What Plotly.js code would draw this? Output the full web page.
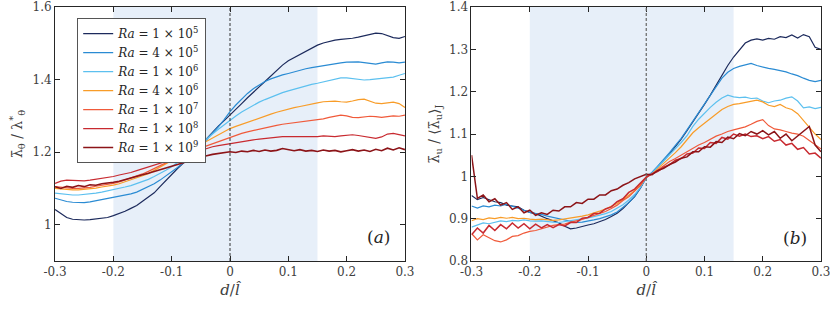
<!DOCTYPE html>
<html>
<head>
<meta charset="utf-8">
<script src="https://cdn.plot.ly/plotly-3.0.1.min.js"></script>
<style>html,body{margin:0;padding:0;background:#fff;}#chart{width:830px;height:311px;}</style>
</head>
<body>
<div id="chart"></div>
<script>
// sample positions d/l_hat from -0.3 to 0.3, step 0.01
const dGrid = [];
for (let i = 0; i <= 60; i++) dGrid.push(Math.round((-0.3 + i * 0.01) * 100) / 100);

const raLabels = ['<i>Ra</i> = 1 × 10<sup>5</sup>', '<i>Ra</i> = 4 × 10<sup>5</sup>', '<i>Ra</i> = 1 × 10<sup>6</sup>',
  '<i>Ra</i> = 4 × 10<sup>6</sup>', '<i>Ra</i> = 1 × 10<sup>7</sup>', '<i>Ra</i> = 1 × 10<sup>8</sup>', '<i>Ra</i> = 1 × 10<sup>9</sup>'];
const raColors = ['#1c2a5c', '#2a8bd3', '#5cc0ef', '#f89c28', '#f05a3a', '#c82a30', '#8c1418'];

// panel (a): lambda_theta / lambda*_theta
const a1e5 = [1.042,1.030,1.020,1.015,1.013,1.013,1.014,1.016,1.018,1.020,1.025,1.030,1.037,1.045,1.053,1.065,1.077,1.088,1.105,1.122,1.138,1.155,1.170,1.186,1.201,1.218,1.237,1.256,1.272,1.287,1.302,1.318,1.334,1.350,1.366,1.380,1.395,1.410,1.425,1.440,1.452,1.461,1.469,1.478,1.487,1.495,1.501,1.506,1.509,1.511,1.512,1.514,1.517,1.521,1.525,1.528,1.527,1.522,1.516,1.514,1.519];
const a4e5 = [1.073,1.068,1.064,1.062,1.061,1.061,1.063,1.066,1.069,1.071,1.074,1.077,1.081,1.085,1.090,1.097,1.104,1.113,1.123,1.134,1.145,1.158,1.171,1.186,1.201,1.218,1.235,1.252,1.270,1.290,1.312,1.330,1.347,1.362,1.375,1.386,1.395,1.402,1.408,1.413,1.417,1.422,1.426,1.430,1.433,1.436,1.438,1.441,1.444,1.446,1.448,1.449,1.449,1.447,1.444,1.443,1.446,1.449,1.448,1.446,1.448];
const a1e6 = [1.087,1.085,1.083,1.082,1.082,1.083,1.085,1.087,1.090,1.093,1.096,1.100,1.104,1.108,1.113,1.119,1.125,1.133,1.141,1.150,1.160,1.171,1.183,1.196,1.210,1.224,1.237,1.250,1.263,1.276,1.289,1.300,1.311,1.320,1.330,1.338,1.345,1.352,1.358,1.364,1.369,1.374,1.379,1.383,1.387,1.390,1.394,1.398,1.402,1.405,1.405,1.403,1.400,1.399,1.400,1.402,1.403,1.404,1.407,1.412,1.417];
const a4e6 = [1.100,1.098,1.097,1.096,1.096,1.097,1.099,1.101,1.104,1.106,1.109,1.113,1.118,1.123,1.129,1.135,1.141,1.150,1.160,1.170,1.179,1.188,1.197,1.205,1.213,1.222,1.230,1.239,1.247,1.256,1.265,1.271,1.277,1.283,1.289,1.295,1.300,1.305,1.310,1.315,1.320,1.323,1.326,1.330,1.333,1.336,1.339,1.341,1.341,1.339,1.338,1.341,1.345,1.346,1.341,1.335,1.334,1.336,1.338,1.334,1.323];
const a1e7 = [1.105,1.103,1.101,1.100,1.100,1.101,1.103,1.106,1.108,1.111,1.114,1.118,1.123,1.128,1.134,1.140,1.147,1.155,1.163,1.171,1.179,1.187,1.194,1.200,1.206,1.212,1.218,1.224,1.230,1.236,1.242,1.247,1.252,1.256,1.260,1.264,1.268,1.271,1.274,1.277,1.279,1.281,1.283,1.285,1.287,1.289,1.292,1.296,1.300,1.302,1.300,1.296,1.295,1.297,1.299,1.298,1.296,1.298,1.300,1.299,1.302];
const a1e8 = [1.114,1.120,1.123,1.122,1.120,1.121,1.123,1.125,1.127,1.130,1.133,1.137,1.140,1.144,1.149,1.154,1.159,1.165,1.170,1.175,1.180,1.186,1.191,1.196,1.201,1.206,1.211,1.215,1.218,1.221,1.223,1.226,1.229,1.232,1.234,1.236,1.238,1.240,1.242,1.243,1.243,1.242,1.243,1.243,1.242,1.243,1.245,1.244,1.243,1.245,1.247,1.248,1.246,1.243,1.240,1.238,1.242,1.250,1.252,1.248,1.245];
const a1e9 = [1.105,1.100,1.106,1.103,1.108,1.105,1.110,1.109,1.113,1.114,1.117,1.120,1.125,1.128,1.133,1.138,1.142,1.147,1.151,1.156,1.160,1.166,1.171,1.176,1.181,1.185,1.190,1.194,1.196,1.199,1.201,1.199,1.203,1.201,1.205,1.202,1.206,1.203,1.205,1.210,1.207,1.204,1.207,1.203,1.205,1.202,1.206,1.203,1.205,1.201,1.204,1.207,1.203,1.206,1.202,1.208,1.204,1.211,1.206,1.212,1.207];

// panel (b): lambda_u / <lambda_u>_J
const b1e5 = [0.955,0.945,0.950,0.945,0.940,0.938,0.932,0.930,0.928,0.920,0.915,0.912,0.905,0.900,0.895,0.890,0.882,0.876,0.878,0.882,0.885,0.888,0.893,0.898,0.905,0.913,0.924,0.937,0.952,0.972,0.997,1.008,1.022,1.038,1.053,1.070,1.088,1.108,1.128,1.148,1.170,1.192,1.215,1.240,1.262,1.282,1.298,1.315,1.322,1.325,1.322,1.326,1.324,1.330,1.328,1.334,1.327,1.335,1.330,1.305,1.300];
const b4e5 = [0.930,0.925,0.930,0.928,0.932,0.930,0.934,0.930,0.925,0.920,0.915,0.912,0.910,0.906,0.903,0.900,0.897,0.894,0.891,0.892,0.894,0.897,0.900,0.904,0.909,0.916,0.926,0.938,0.953,0.973,0.998,1.010,1.025,1.040,1.056,1.073,1.090,1.110,1.130,1.150,1.170,1.190,1.210,1.232,1.246,1.255,1.260,1.264,1.267,1.262,1.258,1.255,1.253,1.250,1.247,1.242,1.238,1.232,1.227,1.224,1.227];
const b1e6 = [0.880,0.885,0.890,0.888,0.892,0.895,0.893,0.896,0.895,0.897,0.895,0.894,0.895,0.893,0.892,0.891,0.893,0.895,0.897,0.899,0.902,0.905,0.908,0.912,0.917,0.924,0.933,0.944,0.957,0.974,0.997,1.008,1.022,1.036,1.050,1.064,1.080,1.096,1.118,1.135,1.150,1.163,1.175,1.185,1.192,1.188,1.186,1.187,1.184,1.185,1.178,1.174,1.178,1.180,1.185,1.188,1.178,1.162,1.164,1.160,1.163];
const b4e6 = [0.895,0.900,0.898,0.902,0.900,0.903,0.901,0.903,0.900,0.901,0.899,0.898,0.899,0.897,0.896,0.897,0.899,0.902,0.904,0.906,0.909,0.913,0.918,0.923,0.929,0.936,0.945,0.955,0.966,0.980,0.998,1.006,1.018,1.030,1.043,1.056,1.070,1.086,1.103,1.115,1.126,1.136,1.148,1.158,1.165,1.170,1.172,1.175,1.177,1.180,1.176,1.168,1.165,1.170,1.162,1.158,1.148,1.132,1.115,1.100,1.087];
const b1e7 = [0.865,0.850,0.862,0.855,0.848,0.845,0.850,0.858,0.860,0.866,0.870,0.872,0.876,0.880,0.884,0.886,0.887,0.892,0.895,0.898,0.903,0.908,0.912,0.917,0.924,0.932,0.943,0.952,0.965,0.978,0.998,1.006,1.015,1.025,1.035,1.042,1.050,1.058,1.067,1.074,1.080,1.088,1.095,1.100,1.106,1.110,1.114,1.117,1.123,1.130,1.134,1.120,1.112,1.110,1.106,1.102,1.100,1.095,1.085,1.075,1.065];
const b1e8 = [0.862,0.878,0.866,0.884,0.872,0.886,0.876,0.890,0.878,0.888,0.876,0.887,0.878,0.886,0.879,0.886,0.883,0.891,0.891,0.901,0.903,0.912,0.913,0.923,0.928,0.940,0.947,0.962,0.970,0.985,0.998,1.006,1.012,1.022,1.027,1.038,1.042,1.053,1.055,1.067,1.066,1.080,1.078,1.092,1.088,1.100,1.095,1.100,1.094,1.096,1.089,1.094,1.083,1.087,1.074,1.078,1.064,1.068,1.053,1.055,1.043];
const b1e9 = [1.050,0.948,0.956,0.940,0.947,0.932,0.938,0.922,0.928,0.914,0.920,0.908,0.914,0.910,0.920,0.918,0.928,0.928,0.938,0.936,0.946,0.946,0.956,0.956,0.966,0.970,0.979,0.985,0.994,0.999,1.005,1.004,1.014,1.019,1.028,1.034,1.043,1.046,1.058,1.058,1.070,1.069,1.082,1.080,1.093,1.089,1.101,1.096,1.106,1.100,1.108,1.098,1.106,1.090,1.100,1.084,1.096,1.108,1.118,1.074,1.058];

const seriesA = [a1e5, a4e5, a1e6, a4e6, a1e7, a1e8, a1e9];
const seriesB = [b1e5, b4e5, b1e6, b4e6, b1e7, b1e8, b1e9];

const traces = [];
seriesA.forEach((ys, i) => {
  traces.push({x: dGrid, y: ys, type: 'scatter', mode: 'lines', name: raLabels[i],
    line: {color: raColors[i], width: i === 6 ? 1.6 : 1.2}, xaxis: 'x', yaxis: 'y', showlegend: true, hoverinfo: 'skip'});
});
seriesB.forEach((ys, i) => {
  traces.push({x: dGrid, y: ys, type: 'scatter', mode: 'lines', name: raLabels[i],
    line: {color: raColors[i], width: i >= 5 ? 1.5 : 1.2}, xaxis: 'x2', yaxis: 'y2', showlegend: false, hoverinfo: 'skip'});
});

const fontFam = 'DejaVu Serif';
const ink = '#262626';
const xTicks = [-0.3, -0.2, -0.1, 0, 0.1, 0.2, 0.3];
const xTickText = ['-0.3', '-0.2', '-0.1', '0', '0.1', '0.2', '0.3'];
const yTicksA = [1, 1.2, 1.4, 1.6];
const yTickTextA = ['1', '1.2', '1.4', '1.6'];
const yTicksB = [0.8, 0.9, 1, 1.1, 1.2, 1.3, 1.4];
const yTickTextB = ['0.8', '0.9', '1', '1.1', '1.2', '1.3', '1.4'];

const axBase = {showline: true, linecolor: ink, linewidth: 1, mirror: 'ticks', ticks: 'inside', ticklen: 5,
  tickcolor: ink, tickwidth: 1, showgrid: false, zeroline: false, automargin: false, ticklabeloverflow: 'allow',
  tickfont: {family: fontFam, size: 12, color: '#404040'}};

const xTitle = {text: '<i>d</i>/<i>l̂</i>', font: {family: fontFam, size: 15, color: '#404040'}, standoff: 6};

const layout = {
  width: 830, height: 311,
  margin: {l: 0, r: 0, t: 0, b: 0},
  paper_bgcolor: '#ffffff', plot_bgcolor: '#ffffff',
  font: {family: fontFam, color: ink},
  showlegend: true,
  legend: {x: 0.093, y: 0.942, xanchor: 'left', yanchor: 'top', bgcolor: '#ffffff', bordercolor: '#555555', borderwidth: 1,
    font: {family: fontFam, size: 12, color: ink}, itemwidth: 30, tracegroupgap: 0},
  xaxis: Object.assign({}, axBase, {domain: [0.06627, 0.48795], range: [-0.3001, 0.3001], tickvals: xTicks, ticktext: xTickText, title: xTitle, anchor: 'y'}),
  yaxis: Object.assign({}, axBase, {domain: [0.16077, 0.97749], range: [0.9, 1.6002], tickvals: yTicksA, ticktext: yTickTextA, anchor: 'x',
    title: {text: 'λ̄<sub>θ</sub> / λ<sup>*</sup><sub>θ</sub>', font: {family: fontFam, size: 14, color: '#404040'}, standoff: 6}}),
  xaxis2: Object.assign({}, axBase, {domain: [0.56807, 0.98916], range: [-0.3001, 0.3001], tickvals: xTicks, ticktext: xTickText, title: xTitle, anchor: 'y2'}),
  yaxis2: Object.assign({}, axBase, {domain: [0.16077, 0.97749], range: [0.8, 1.4002], tickvals: yTicksB, ticktext: yTickTextB, anchor: 'x2',
    title: {text: 'λ̄<sub>u</sub> / ⟨λ̄<sub>u</sub>⟩<sub>J</sub>', font: {family: fontFam, size: 14, color: '#404040'}, standoff: 6}}),
  shapes: [
    {type: 'rect', xref: 'x', yref: 'y domain', x0: -0.2, x1: 0.15, y0: 0, y1: 1, fillcolor: '#e7eff9', line: {width: 0}, layer: 'below'},
    {type: 'rect', xref: 'x2', yref: 'y2 domain', x0: -0.2, x1: 0.15, y0: 0, y1: 1, fillcolor: '#e7eff9', line: {width: 0}, layer: 'below'},
    {type: 'line', xref: 'x', yref: 'y domain', x0: 0, x1: 0, y0: 0, y1: 1, line: {color: '#333333', width: 1, dash: '3px,2px'}},
    {type: 'line', xref: 'x2', yref: 'y2 domain', x0: 0, x1: 0, y0: 0, y1: 1, line: {color: '#666666', width: 1.2, dash: '3px,2px'}}
  ],
  annotations: [
    {xref: 'x', yref: 'y', x: 0.255, y: 0.965, text: '(<i>a</i>)', showarrow: false, font: {family: fontFam, size: 17, color: ink}},
    {xref: 'x2', yref: 'y2', x: 0.255, y: 0.855, text: '(<i>b</i>)', showarrow: false, font: {family: fontFam, size: 17, color: ink}}
  ]
};

Plotly.newPlot('chart', traces, layout, {displayModeBar: false, staticPlot: true});
</script>
</body>
</html>
